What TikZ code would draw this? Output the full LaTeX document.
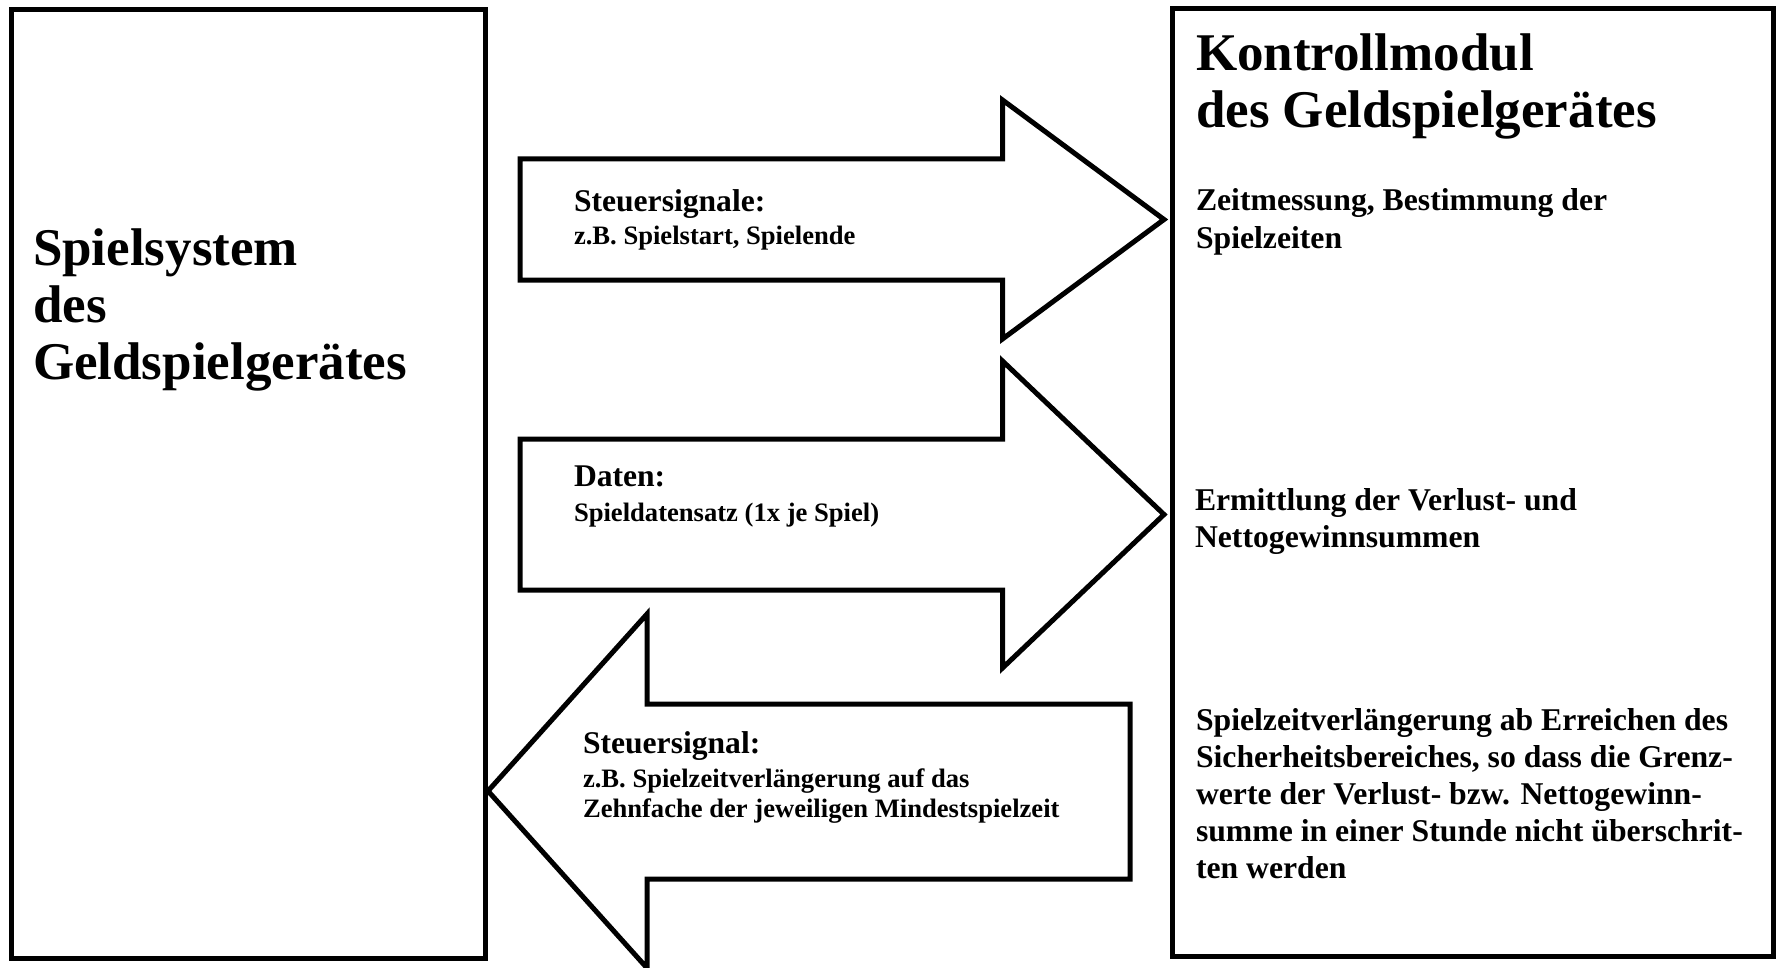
\documentclass[tikz,border=0pt]{standalone}
\usepackage{fontspec}
\setmainfont{Liberation Serif}
\begin{document}
\begin{tikzpicture}[x=1pt,y=-1pt,
  box/.style={draw=black,line width=5pt,line join=miter},
  blockarrow/.style={draw=black,fill=white,line width=5pt,line join=miter,miter limit=10},
  txt/.style={inner sep=0pt,outer sep=0pt,anchor=base west,align=left},
  title/.style={txt,font=\bfseries\fontsize{53}{57}\selectfont},
  body/.style={txt,font=\bfseries\fontsize{31.7}{37}\selectfont},
  head/.style={txt,font=\bfseries\fontsize{31.6}{37}\selectfont},
  small/.style={txt,font=\bfseries\fontsize{26.6}{30.5}\selectfont}]
\useasboundingbox (0,0) rectangle (1776,968);
% boxes
\draw[box] (11.5,9.5) rectangle (485,958);
\draw[box] (1172,9) rectangle (1773.5,956);
% arrow 1
\draw[blockarrow] (520,159) -- (1002.5,159) -- (1002.5,100) -- (1164,219.5)
  -- (1002.5,339) -- (1002.5,280) -- (520,280) -- cycle;
% arrow 2
\draw[blockarrow] (520,439) -- (1002.5,439) -- (1002.5,361) -- (1164,514.5)
  -- (1002.5,668) -- (1002.5,590) -- (520,590) -- cycle;
% arrow 3
\draw[blockarrow] (1130,704) -- (647,704) -- (647,614) -- (488,791)
  -- (647,968) -- (647,879) -- (1130,879) -- cycle;
% texts (multi-line nodes are placed by the baseline of their last line)
\node[title] (lt) at (33,379) {Spielsystem\\des\\Geldspielgerätes};
\node[title] (rt) at (1196,127.7) {Kontrollmodul\\des Geldspielgerätes};
\node[body] (r1) at (1196,248) {Zeitmessung, Bestimmung der\\Spielzeiten};
\node[body] (r2) at (1195,547) {Ermittlung der Verlust- und\\Nettogewinnsummen};
\node[body] (r3) at (1196,878) {Spielzeitverlängerung ab Erreichen des\\Sicherheitsbereiches, so dass die Grenz-\\werte der Verlust- bzw. Nettogewinn-\\summe in einer Stunde nicht überschrit-\\ten werden};
\node[head] (a1h) at (574,212) {Steuersignale:};
\node[small] (a1t) at (574,244) {z.B. Spielstart, Spielende};
\node[head] (a2h) at (574,486) {Daten:};
\node[small] (a2t) at (574,521) {Spieldatensatz (1x je Spiel)};
\node[head] (a3h) at (583,753) {Steuersignal:};
\node[small] (a3t) at (583,817.5) {z.B. Spielzeitverlängerung auf das\\Zehnfache der jeweiligen Mindestspielzeit};
\end{tikzpicture}
\end{document}
